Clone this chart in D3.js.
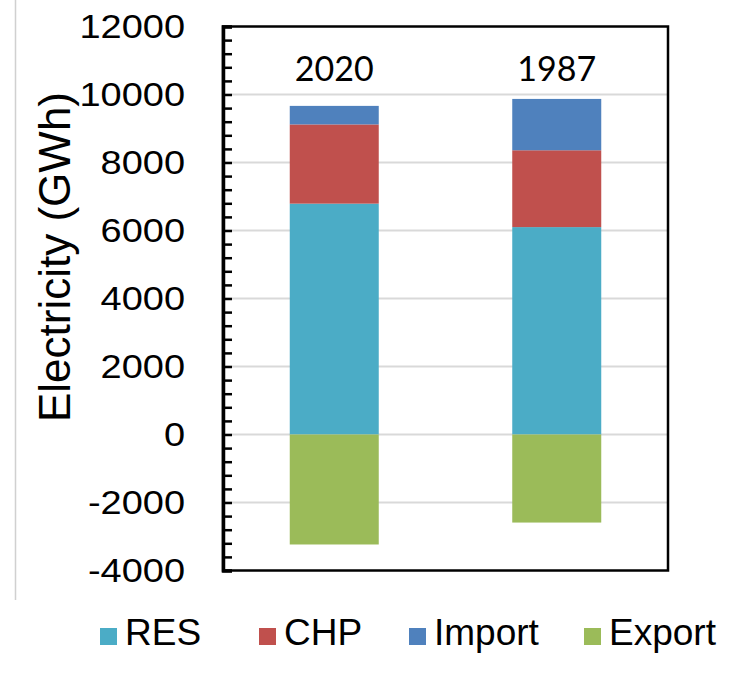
<!DOCTYPE html>
<html>
<head>
<meta charset="utf-8">
<script src="https://cdn.jsdelivr.net/npm/d3@7"></script>
<style>
  html, body { margin: 0; padding: 0; background: #fff; }
  svg { display: block; }
</style>
</head>
<body>
<div id="chart"></div>
<script>
// Electricity balance per scenario year (GWh)
const categories = ["2020", "1987"];
const seriesKeys = ["RES", "CHP", "Import", "Export"];
const resValues = [6790, 6100];
const chpValues = [2330, 2260];
const importValues = [545, 1510];
const exportValues = [-3235, -2590];
const majorTicks = [-4000, -2000, 0, 2000, 4000, 6000, 8000, 10000, 12000];
const gridTicks = [-2000, 0, 2000, 4000, 6000, 8000, 10000];
const minorStep = 400;

const colors = {
  RES: "#4BACC6",
  CHP: "#C0504D",
  Import: "#4F81BD",
  Export: "#9BBB59"
};

const width = 743, height = 681;
const plot = { left: 223, top: 26.5, right: 668, bottom: 570.5 };

const rows = categories.map((c, i) => ({
  year: c,
  RES: resValues[i],
  CHP: chpValues[i],
  Import: importValues[i],
  Export: exportValues[i]
}));

const stacked = d3.stack()
  .keys(seriesKeys)
  .order(d3.stackOrderNone)
  .offset(d3.stackOffsetDiverging)(rows);

const x = d3.scaleBand()
  .domain(categories)
  .range([plot.left, plot.right])
  .paddingInner(0.6)
  .paddingOuter(0.3);

const y = d3.scaleLinear()
  .domain([-4000, 12000])
  .range([plot.bottom, plot.top]);

const svg = d3.select("#chart").append("svg")
  .attr("width", width)
  .attr("height", height);

// thin separator at the far left
svg.append("line")
  .attr("x1", 15.5).attr("x2", 15.5)
  .attr("y1", 0).attr("y2", 600)
  .attr("stroke", "#d0d0d0").attr("stroke-width", 1.5);

// horizontal gridlines
svg.append("g")
  .selectAll("line")
  .data(gridTicks)
  .join("line")
  .attr("x1", plot.left).attr("x2", plot.right)
  .attr("y1", d => y(d)).attr("y2", d => y(d))
  .attr("stroke", "#d9d9d9").attr("stroke-width", 2);

// stacked bars
svg.append("g")
  .selectAll("g")
  .data(stacked)
  .join("g")
  .attr("fill", d => colors[d.key])
  .selectAll("rect")
  .data(d => d)
  .join("rect")
  .attr("x", d => x(d.data.year))
  .attr("width", x.bandwidth())
  .attr("y", d => y(Math.max(d[0], d[1])))
  .attr("height", d => Math.abs(y(d[0]) - y(d[1])));

// year labels above the bars
svg.append("g")
  .selectAll("text")
  .data(categories)
  .join("text")
  .attr("x", d => x(d) + x.bandwidth() / 2)
  .attr("y", 81)
  .attr("text-anchor", "middle")
  .attr("font-family", "Lato, 'Open Sans', sans-serif")
  .attr("font-size", 34)
  .attr("fill", "#000")
  .text(d => d);

// plot frame
svg.append("rect")
  .attr("x", plot.left).attr("y", plot.top)
  .attr("width", plot.right - plot.left)
  .attr("height", plot.bottom - plot.top)
  .attr("fill", "none")
  .attr("stroke", "#000").attr("stroke-width", 2.5);

// inward tick marks (minor every 400)
const minorTicks = d3.range(-4000, 12000 + 1, minorStep);
const tickAxis = svg.append("g")
  .attr("transform", `translate(${plot.left},0)`)
  .call(d3.axisRight(y).tickValues(minorTicks).tickSize(9).tickFormat(""));
tickAxis.select(".domain").attr("stroke", "#000").attr("stroke-width", 3.5);
tickAxis.selectAll(".tick line").attr("stroke", "#000").attr("stroke-width", 2.5);

// tick labels (plain hyphen for negatives, slightly widened glyphs)
const fmt = d => String(d);
svg.append("g")
  .selectAll("text")
  .data(majorTicks)
  .join("text")
  .attr("transform", d => `translate(185,${y(d)}) scale(1.15,1)`)
  .attr("dy", "0.36em")
  .attr("text-anchor", "end")
  .attr("font-family", "'Liberation Sans', Arial, sans-serif")
  .attr("font-size", 33)
  .attr("fill", "#000")
  .text(fmt);

// y-axis title
svg.append("text")
  .attr("transform", `translate(70,257) rotate(-90)`)
  .attr("text-anchor", "middle")
  .attr("font-family", "'Liberation Sans', Arial, sans-serif")
  .attr("font-size", 44)
  .attr("fill", "#000")
  .text("Electricity (GWh)");

// legend
const legendX = [100, 259, 409, 584];
const legend = svg.append("g")
  .selectAll("g")
  .data(seriesKeys)
  .join("g")
  .attr("transform", (d, i) => `translate(${legendX[i]},645)`);
legend.append("rect")
  .attr("x", 0).attr("y", -17)
  .attr("width", 17).attr("height", 17)
  .attr("fill", d => colors[d]);
legend.append("text")
  .attr("x", 25).attr("y", 0)
  .attr("font-family", "'Liberation Sans', Arial, sans-serif")
  .attr("font-size", 37)
  .attr("fill", "#000")
  .text(d => d);
</script>
</body>
</html>
